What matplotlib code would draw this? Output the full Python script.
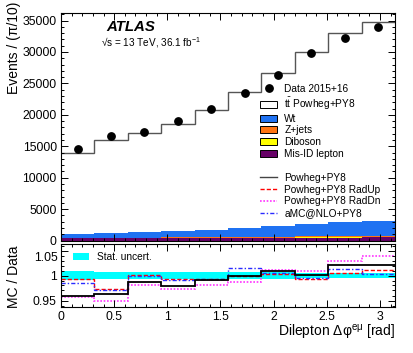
import numpy as np
import matplotlib
matplotlib.use("Agg")
import matplotlib.pyplot as plt
from matplotlib.patches import Patch
from matplotlib.lines import Line2D
from matplotlib.ticker import MultipleLocator, FuncFormatter, FormatStrFormatter

plt.rcParams["font.family"] = ["Liberation Sans", "DejaVu Sans"]
plt.rcParams["mathtext.fontset"] = "custom"
plt.rcParams["mathtext.rm"] = "Liberation Sans"
plt.rcParams["mathtext.it"] = "Liberation Sans:italic"
plt.rcParams["mathtext.bf"] = "Liberation Sans:bold"

# 10 bins in dilepton delta phi, 0..pi
bin_edges = np.linspace(0, np.pi, 11)
bin_centers = 0.5 * (bin_edges[:-1] + bin_edges[1:])

# main panel (events per bin)
data = [14620, 16650, 17230, 19030, 20990, 23530, 26350, 29810, 32200, 33950]
ttbar = [12950, 14820, 15710, 17050, 19050, 21580, 24260, 27270, 30050, 31630]
wt = [580, 760, 890, 1055, 1215, 1420, 1720, 1965, 2215, 2360]
zjets = [60, 70, 80, 100, 120, 140, 170, 200, 230, 260]
diboson = [30, 30, 30, 35, 35, 40, 40, 45, 45, 50]
misid = [330, 340, 350, 360, 380, 400, 420, 440, 460, 480]

# ratio panel (MC / Data)
ratio_nominal = [0.959, 0.963, 0.987, 0.979, 0.992, 0.999, 1.009, 1.002, 1.022, 1.022]
ratio_radup = [0.994, 0.974, 1.002, 0.994, 0.994, 0.999, 1.004, 0.993, 1.005, 1.011]
ratio_raddn = [0.957, 0.949, 0.982, 0.974, 0.981, 0.987, 1.011, 1.009, 1.030, 1.039]
ratio_amc = [0.985, 0.972, 1.000, 0.992, 0.993, 1.015, 1.005, 0.995, 1.014, 1.004]
stat_unc = [0.0083, 0.0077, 0.0076, 0.0072, 0.0069, 0.0065, 0.0062, 0.0058, 0.0056, 0.0054]

c_wt = "#1f72f2"
c_zjets = "#ff7514"
c_diboson = "#ffff00"
c_misid = "#660066"

W, H = 414, 353
fig = plt.figure(figsize=(W / 100, H / 100), dpi=100)
ax = fig.add_axes([61 / W, 1 - 240.5 / H, 334 / W, 227.5 / H])
axr = fig.add_axes([61 / W, 1 - 307 / H, 334 / W, 63 / H])

# stacked backgrounds, bottom to top
bottom = np.zeros(10)
for vals, col in [(misid, c_misid), (diboson, c_diboson), (zjets, c_zjets),
                  (wt, c_wt), (ttbar, "white")]:
    top = bottom + np.array(vals)
    ax.stairs(top, bin_edges, baseline=bottom, fill=True, color=col, lw=0)
    bottom = top
ax.stairs(bottom, bin_edges, baseline=None, color="#555555", lw=1.0)
ax.plot(bin_centers, data, "o", color="black", ms=5.3)

ax.set_xlim(0, np.pi)
ax.set_ylim(0, 36200)
ax.yaxis.set_major_locator(MultipleLocator(5000))
ax.yaxis.set_minor_locator(MultipleLocator(1000))
ax.xaxis.set_major_locator(MultipleLocator(0.5))
ax.xaxis.set_minor_locator(MultipleLocator(0.1))
ax.tick_params(labelbottom=False)

# ratio panel
unc = np.array(stat_unc)
axr.stairs(1 + unc, bin_edges, baseline=1 - unc, fill=True, color="#00ffff", lw=0)
axr.stairs(ratio_radup, bin_edges, baseline=None, color="red", lw=1.0, ls=(0, (3, 1.5)))
axr.stairs(ratio_raddn, bin_edges, baseline=None, color="#ff33ff", lw=1.2, ls=(0, (1, 1)))
axr.stairs(ratio_amc, bin_edges, baseline=None, color="#2a2aff", lw=1.0, ls=(0, (3, 1.5, 1, 1.5)))
axr.stairs(ratio_nominal, bin_edges, baseline=None, color="black", lw=1.3)

axr.set_xlim(0, np.pi)
axr.set_ylim(0.937, 1.063)
axr.yaxis.set_major_locator(MultipleLocator(0.05))
axr.yaxis.set_minor_locator(MultipleLocator(0.01))
# top label is drawn by hand, pushed down like in ROOT
axr.yaxis.set_major_formatter(FuncFormatter(lambda v, p: "" if v > 1.04 else f"{v:g}"))
axr.xaxis.set_major_locator(MultipleLocator(0.5))
axr.xaxis.set_minor_locator(MultipleLocator(0.1))
axr.xaxis.set_major_formatter(FormatStrFormatter("%g"))

for a in (ax, axr):
    a.tick_params(which="both", direction="in", top=True, right=True, labelsize=8.8, pad=3)
    a.tick_params(which="major", length=5, width=0.7)
    a.tick_params(which="minor", length=2.5, width=0.7)
    for s in a.spines.values():
        s.set_linewidth(0.8)

fig.text(58 / W, 1 - 258 / H, "1.05", ha="right", va="center", fontsize=8.8)
fig.text(106 / W, 1 - 27 / H, "ATLAS", fontsize=10.8, fontweight="bold", fontstyle="italic", va="center")
fig.text(101 / W, 1 - 43 / H, "√s = 13 TeV, 36.1 fb$^{-1}$", fontsize=7.2, va="center")
fig.text(14 / W, 1 - 2 / H, "Events / (π/10)", rotation=90, ha="center", va="top", fontsize=10)
fig.text(14 / W, 1 - 245 / H, "MC / Data", rotation=90, ha="center", va="top", fontsize=10)
fig.text(395 / W, 1 - 333 / H, r"Dilepton Δφ$^{\mathrm{e\mu}}$ [rad]", ha="right", va="center", fontsize=10)

blank = Line2D([], [], color="none")
handles = [
    Line2D([], [], marker="o", color="black", ls="none", ms=5.3),
    Patch(facecolor="white", edgecolor="black", lw=0.7),
    Patch(facecolor=c_wt, edgecolor="black", lw=0.7),
    Patch(facecolor=c_zjets, edgecolor="black", lw=0.7),
    Patch(facecolor=c_diboson, edgecolor="black", lw=0.7),
    Patch(facecolor=c_misid, edgecolor="black", lw=0.7),
    blank,
    Line2D([], [], color="#444444", lw=1.0),
    Line2D([], [], color="red", lw=1.0, ls=(0, (3, 1.5))),
    Line2D([], [], color="#ff33ff", lw=1.2, ls=(0, (1, 1))),
    Line2D([], [], color="#2a2aff", lw=1.0, ls=(0, (3, 1.5, 1, 1.5))),
]
labels = ["Data 2015+16", r"t$\bar{\mathrm{t}}$ Powheg+PY8", "Wt", "Z+jets", "Diboson",
          "Mis-ID lepton", "", "Powheg+PY8", "Powheg+PY8 RadUp", "Powheg+PY8 RadDn",
          "aMC@NLO+PY8"]
ax.legend(handles, labels, loc="upper left", bbox_to_anchor=((260 - 61) / 334, 1 - (84 - 13) / 227.5),
          frameon=False, fontsize=7.3, handlelength=1.7, handleheight=0.7, handletextpad=0.7,
          labelspacing=0.18, borderpad=0, borderaxespad=0)

axr.legend([Patch(facecolor="#00ffff", lw=0)], ["Stat. uncert."], loc="upper left",
           bbox_to_anchor=((73 - 61) / 334, 1 - (252 - 244) / 63), frameon=False, fontsize=7.3,
           handlelength=1.6, handleheight=0.6, handletextpad=0.8, borderpad=0, borderaxespad=0)

fig.savefig("out.png", dpi=100)
